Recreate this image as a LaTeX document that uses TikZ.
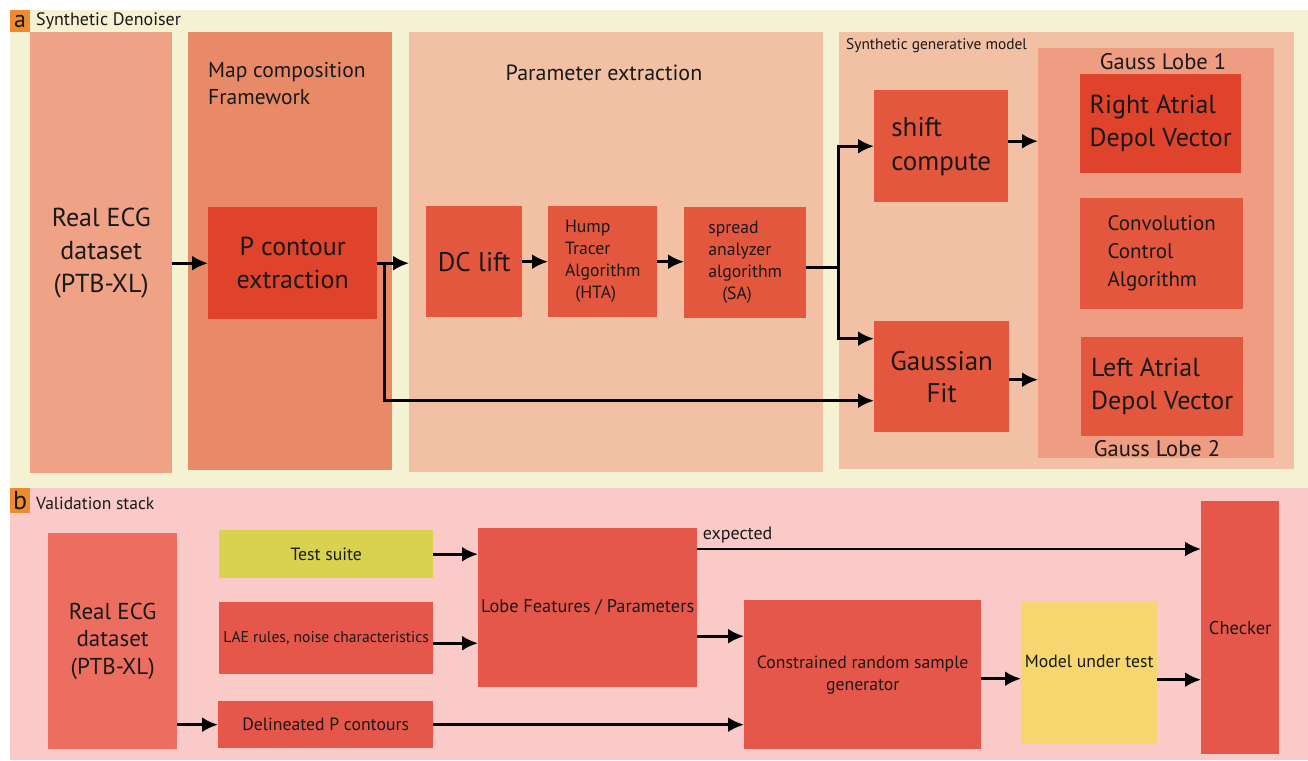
\documentclass[tikz,border=0pt]{standalone}
\usepackage{fontspec}
\setmainfont{PT Sans}
\usetikzlibrary{arrows.meta,positioning}
\definecolor{creamColor}{RGB}{245,241,211}
\definecolor{pinkColor}{RGB}{249,202,200}
\definecolor{tagColor}{RGB}{240,138,48}
\definecolor{datasetColor}{RGB}{239,162,133}
\definecolor{mapColor}{RGB}{232,138,104}
\definecolor{stageColor}{RGB}{242,193,165}
\definecolor{lobeColor}{RGB}{238,156,130}
\definecolor{blockColor}{RGB}{227,87,63}
\definecolor{darkBlockColor}{RGB}{224,67,44}
\definecolor{sampleColor}{RGB}{236,110,96}
\definecolor{checkColor}{RGB}{229,87,74}
\definecolor{suiteColor}{RGB}{216,210,79}
\definecolor{dutColor}{RGB}{246,214,110}
\tikzset{box/.style={anchor=north west, inner sep=0pt, align=center, text=black!90}}
\tikzset{block/.style={box, fill=blockColor}}
\tikzset{caption/.style={inner sep=0pt, text=black!90}}
\tikzset{arr/.style={line width=2.8pt, -{Latex[length=16pt,width=15pt]}}}
\newcommand{\fsBig}{\fontsize{26}{33}\selectfont}
\newcommand{\fsMid}{\fontsize{21}{28}\selectfont}
\newcommand{\fsSmall}{\fontsize{17.7}{22}\selectfont}

\begin{document}
\begin{tikzpicture}[x=1pt, y=-1pt]
\useasboundingbox (0,0) rectangle (1308,760);
% Panels
\node (panelA) [box, fill=creamColor, minimum width=1298pt, minimum height=478pt] at (10,10) {};
\node (panelB) [box, fill=pinkColor, minimum width=1298pt, minimum height=272pt] at (10,488) {};
\node (tagA) [box, fill=tagColor, minimum width=20pt, minimum height=22pt, font=\fontsize{24}{24}\selectfont] at (10,10) {a};
\node (tagB) [box, fill=tagColor, minimum width=20pt, minimum height=25pt, font=\fontsize{26}{26}\selectfont] at (10,488) {b};
\node (titleA) [caption, anchor=west, font=\fontsize{18}{20}\selectfont] at (36,21) {Synthetic Denoiser};
\node (titleB) [caption, anchor=west, font=\fontsize{17.5}{20}\selectfont] at (36,503) {Validation stack};

% Columns
\node (realTop) [box, fill=datasetColor, minimum width=142pt, minimum height=441pt, font=\fsBig] at (30,32) {Real ECG\\dataset\\(PTB-XL)};
\node (mapCol) [box, fill=mapColor, minimum width=204pt, minimum height=438pt] at (188,32) {};
\node (paramCol) [box, fill=stageColor, minimum width=414pt, minimum height=440pt] at (409,32) {};
\node (synthCol) [box, fill=stageColor, minimum width=455pt, minimum height=437pt] at (839,32) {};
\node (lobeCol) [box, fill=lobeColor, minimum width=236pt, minimum height=410pt] at (1038,48) {};

\node (mapTitle) [caption, anchor=north west, align=left, font=\fontsize{21.5}{27}\selectfont] at (208,62) {Map composition\\Framework};
\node (paramTitle) [caption, font=\fontsize{22}{24}\selectfont] at (604,73) {Parameter extraction};
\node (synthTitle) [caption, anchor=west, font=\fontsize{15.4}{18}\selectfont] at (846,46) {Synthetic generative model};
\node (lobeOne) [caption, font=\fontsize{22.5}{28}\selectfont] at (1163,62) {Gauss Lobe 1};
\node (lobeTwo) [caption, font=\fontsize{22.5}{28}\selectfont] at (1157,449) {Gauss Lobe 2};

% Blocks
\node (pContour) [block, fill=darkBlockColor, minimum width=169pt, minimum height=112pt, font=\fsBig] at (208,207) {P contour\\extraction};
\node (dcLift) [block, minimum width=96pt, minimum height=111pt, font=\fontsize{27}{32}\selectfont] at (426,206) {DC lift};
\node (hta) [block, minimum width=109pt, minimum height=111pt, align=left, font=\fsSmall] at (548,206) {Hump\\Tracer\\Algorithm\\\hphantom{A}(HTA)};
\node (sa) [block, minimum width=122pt, minimum height=111pt, align=left, font=\fsSmall] at (684,207) {spread\\analyzer\\algorithm\\\hphantom{al}(SA)};
\node (shiftC) [block, minimum width=134pt, minimum height=112pt, align=left, font=\fontsize{27}{34}\selectfont] at (874,90) {shift\\compute};
\node (gaussFit) [block, minimum width=135pt, minimum height=111pt, font=\fontsize{27}{32}\selectfont] at (874,321) {Gaussian\\Fit};
\node (rightAtrial) [block, fill=darkBlockColor, minimum width=161pt, minimum height=99pt, align=left, font=\fsBig] at (1080,74) {Right Atrial\\Depol Vector};
\node (convCtrl) [block, minimum width=163pt, minimum height=111pt, align=left, font=\fsMid] at (1080,198) {Convolution\\Control\\Algorithm};
\node (leftAtrial) [block, minimum width=162pt, minimum height=99pt, align=left, font=\fsBig] at (1081,337) {Left Atrial\\Depol Vector};

\node (realBot) [box, fill=sampleColor, minimum width=129pt, minimum height=216pt, font=\fontsize{23}{27.5}\selectfont] at (48,533) {Real ECG\\dataset\\(PTB-XL)};
\node (testSuite) [box, fill=suiteColor, minimum width=214pt, minimum height=48pt, font=\fsSmall] at (219,530) {Test suite};
\node (laeRules) [box, fill=checkColor, minimum width=214pt, minimum height=72pt, font=\fontsize{15.6}{18}\selectfont] at (219,602) {LAE rules, noise characteristics};
\node (delineated) [box, fill=checkColor, minimum width=215pt, minimum height=47pt, font=\fsSmall] at (218,701) {Delineated P contours};
\node (lobeFeat) [box, fill=checkColor, minimum width=219pt, minimum height=159pt, font=\fontsize{18.3}{22}\selectfont] at (478,528) {Lobe Features / Parameters};
\node (constrained) [box, fill=checkColor, minimum width=237pt, minimum height=149pt, font=\fsSmall] at (744,600) {Constrained random sample\\generator};
\node (modelTest) [box, fill=dutColor, minimum width=136pt, minimum height=143pt, label={[caption, yshift=11pt, font=\fsSmall]center:Model under test}] at (1021,601) {};
\node (checker) [box, fill=checkColor, minimum width=78pt, minimum height=253pt, font=\fontsize{18.5}{22}\selectfont] at (1201,501) {Checker};

% Connectors
\draw [arr] (realTop.east |- pContour) -- (pContour.west);
\draw [arr] (pContour.east) -- (pContour.east -| paramCol.west);
\draw [arr] (pContour.east) ++(7,0) |- ([yshift=-24pt]gaussFit.west);
\draw [arr] (dcLift.east) -- (hta.west);
\draw [arr] (hta.east) -- (hta.east -| sa.west);
\draw [line width=2.8pt] ([yshift=-5pt]sa.east) -- ++(32,0) coordinate (split);
\draw [arr] (split) |- (shiftC.west);
\draw [arr] (split) |- ([yshift=38pt]gaussFit.west);
\draw [arr] ([yshift=5pt]shiftC.east) -- ([yshift=5pt]shiftC.east -| lobeCol.west);
\draw [arr] ([yshift=-3pt]gaussFit.east) -- ([yshift=-3pt]gaussFit.east -| lobeCol.west);

\draw [arr] (testSuite.east) -- (testSuite.east -| lobeFeat.west);
\draw [arr] ([yshift=-5pt]laeRules.east) -- ([yshift=-5pt]laeRules.east -| lobeFeat.west);
\draw [arr] (realBot.east |- delineated) -- (delineated.west);
\draw [arr] (delineated.east) -- (delineated.east -| constrained.west);
\draw [arr] ([yshift=-21pt]lobeFeat.north east) -- node[caption, pos=0, anchor=south west, yshift=5pt, xshift=4pt, font=\fontsize{18}{22}\selectfont] (expectedLbl) {expected} ([yshift=-21pt]lobeFeat.north east -| checker.west);
\draw [arr] ([yshift=-28.5pt]lobeFeat.east) -- ([yshift=-28.5pt]lobeFeat.east -| constrained.west);
\draw [arr] ([yshift=-4pt]constrained.east) -- ([yshift=-4pt]constrained.east -| modelTest.west);
\draw [arr] ([yshift=-7pt]modelTest.east) -- ([yshift=-7pt]modelTest.east -| checker.west);
\end{tikzpicture}
\end{document}
